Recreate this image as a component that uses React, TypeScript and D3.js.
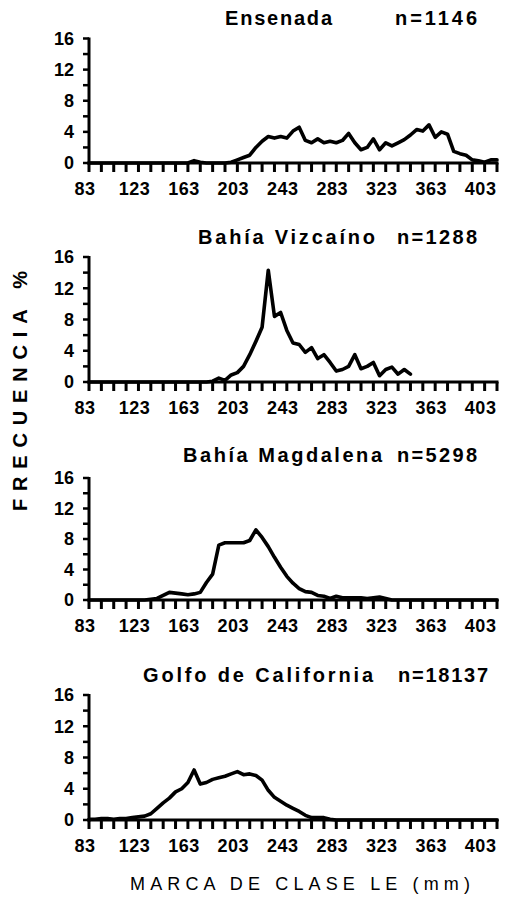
import React from 'react';
import * as d3 from 'd3';

const classMarks = [83, 88, 93, 98, 103, 108, 113, 118, 123, 128, 133, 138, 143, 148, 153, 158, 163, 168, 173, 178, 183, 188, 193, 198, 203, 208, 213, 218, 223, 228, 233, 238, 243, 248, 253, 258, 263, 268, 273, 278, 283, 288, 293, 298, 303, 308, 313, 318, 323, 328, 333, 338, 343, 348, 353, 358, 363, 368, 373, 378, 383, 388, 393, 398, 403, 408, 413];

const ensenada = [0, 0, 0, 0, 0, 0, 0, 0, 0, 0, 0, 0, 0, 0, 0, 0, 0, 0.3, 0.1, 0, 0, 0, 0, 0.1, 0.4, 0.7, 1.0, 2.0, 2.8, 3.4, 3.2, 3.4, 3.2, 4.1, 4.6, 2.9, 2.6, 3.1, 2.6, 2.8, 2.6, 2.9, 3.8, 2.6, 1.7, 2.0, 3.1, 1.7, 2.6, 2.2, 2.6, 3.0, 3.6, 4.3, 4.1, 4.9, 3.3, 4.0, 3.7, 1.5, 1.2, 1.0, 0.4, 0.3, 0.1, 0.4, 0.4];

const vizcaino = [0, 0, 0, 0, 0, 0, 0, 0, 0, 0, 0, 0, 0, 0, 0, 0, 0, 0, 0, 0, 0.1, 0.5, 0.2, 0.9, 1.2, 2.0, 3.5, 5.2, 7.0, 14.3, 8.4, 8.9, 6.6, 5.0, 4.8, 3.8, 4.4, 3.0, 3.5, 2.5, 1.4, 1.6, 2.0, 3.5, 1.7, 2.0, 2.5, 0.8, 1.6, 1.9, 1.0, 1.6, 1.0];

const magdalena = [0, 0, 0, 0, 0, 0, 0, 0, 0, 0, 0.1, 0.2, 0.6, 1.0, 0.9, 0.8, 0.7, 0.8, 1.0, 2.3, 3.4, 7.2, 7.5, 7.5, 7.5, 7.5, 7.8, 9.2, 8.2, 7.0, 5.6, 4.3, 3.1, 2.2, 1.5, 1.1, 1.0, 0.6, 0.5, 0.2, 0.5, 0.3, 0.3, 0.3, 0.3, 0.2, 0.3, 0.4, 0.2, 0, 0, 0, 0, 0, 0, 0, 0, 0, 0, 0, 0, 0, 0, 0, 0, 0, 0];

const golfo = [0.1, 0.1, 0.2, 0.2, 0.1, 0.2, 0.2, 0.3, 0.4, 0.5, 0.8, 1.5, 2.2, 2.8, 3.6, 4.0, 4.8, 6.4, 4.6, 4.8, 5.2, 5.4, 5.6, 5.9, 6.2, 5.8, 5.9, 5.7, 5.1, 3.8, 2.9, 2.4, 1.9, 1.5, 1.1, 0.6, 0.3, 0.3, 0.3, 0.1, 0, 0, 0, 0, 0, 0, 0, 0, 0, 0, 0, 0, 0, 0, 0, 0, 0, 0, 0, 0, 0, 0, 0, 0, 0, 0, 0];

const placeNames = ['Ensenada', 'Bahía Vizcaíno', 'Bahía Magdalena', 'Golfo de California'];
const sampleSizes = ['n=1146', 'n=1288', 'n=5298', 'n=18137'];
const seriesList = [ensenada, vizcaino, magdalena, golfo];

const xTickLabels = [83, 123, 163, 203, 243, 283, 323, 363, 403];
const xMinorTicks = [83, 93, 103, 113, 123, 133, 143, 153, 163, 173, 183, 193, 203, 213, 223, 233, 243, 253, 263, 273, 283, 293, 303, 313, 323, 333, 343, 353, 363, 373, 383, 393, 403, 413];
const yTickLabels = [0, 4, 8, 12, 16];
const yMinorTicks = [0, 2, 4, 6, 8, 10, 12, 14, 16];

const yAxisTitle = 'FRECUENCIA  %';
const xAxisTitle = 'MARCA DE CLASE LE (mm)';

// layout
const W = 505;
const H = 897;
const panelGeom = [
  { base: 163, top: 38.5, nameX: 225, nameLen: 107, nLen: 82, nEnd: 477 },
  { base: 382, top: 257, nameX: 198, nameLen: 177, nLen: 80, nEnd: 477 },
  { base: 600, top: 478, nameX: 183, nameLen: 199, nLen: 80, nEnd: 477 },
  { base: 820, top: 695, nameX: 143, nameLen: 230, nLen: 90, nEnd: 488 },
];
const FONT = '"Liberation Sans", Arial, Helvetica, sans-serif';

const x = d3.scaleLinear().domain([83, 413]).range([89, 497]);

function Panel({ idx }: { idx: number }) {
  const g = panelGeom[idx];
  const y = d3.scaleLinear().domain([0, 16]).range([g.base, g.top]);
  const values = seriesList[idx];
  const pts: [number, number][] = values.map((v, i) => [classMarks[i], v]);
  const line = d3
    .line<[number, number]>()
    .x((d) => x(d[0]))
    .y((d) => y(d[1]));
  return (
    <g>
      <text
        x={g.nameX}
        y={g.base - 138}
        fontFamily={FONT}
        fontWeight="bold"
        fontSize={20}
        textLength={g.nameLen}
        lengthAdjust="spacing"
        fill="#000"
      >
        {placeNames[idx]}
      </text>
      <text
        x={g.nEnd}
        y={g.base - 138}
        fontFamily={FONT}
        fontWeight="bold"
        fontSize={20}
        textAnchor="end"
        textLength={g.nLen}
        lengthAdjust="spacing"
        fill="#000"
      >
        {sampleSizes[idx]}
      </text>
      {/* y axis */}
      <line x1={x(83)} x2={x(83)} y1={y(0) + 1.5} y2={y(16) - 1} stroke="#000" strokeWidth={3} />
      {yMinorTicks.map((t) => (
        <line key={'yt' + t} x1={x(83) - 6} x2={x(83)} y1={y(t)} y2={y(t)} stroke="#000" strokeWidth={2.5} />
      ))}
      {yTickLabels.map((t) => (
        <text
          key={'yl' + t}
          x={74}
          y={y(t)}
          dy="0.36em"
          textAnchor="end"
          fontFamily={FONT}
          fontWeight="bold"
          fontSize={18}
          fill="#000"
        >
          {t}
        </text>
      ))}
      {/* x axis */}
      <line x1={x(83) - 1.5} x2={x(413) + 1.5} y1={y(0)} y2={y(0)} stroke="#000" strokeWidth={3} />
      {xMinorTicks.map((t) => (
        <line key={'xt' + t} x1={x(t)} x2={x(t)} y1={y(0)} y2={y(0) + 9} stroke="#000" strokeWidth={3} />
      ))}
      {xTickLabels.map((t) => (
        <text
          key={'xl' + t}
          x={x(t) - 4}
          y={y(0) + 32}
          textAnchor="middle"
          fontFamily={FONT}
          fontWeight="bold"
          fontSize={18}
          letterSpacing={0.5}
          fill="#000"
        >
          {t}
        </text>
      ))}
      <path
        d={line(pts) || ''}
        fill="none"
        stroke="#000"
        strokeWidth={3.6}
        strokeLinejoin="round"
        strokeLinecap="round"
      />
    </g>
  );
}

export default function App() {
  return (
    <svg
      width={W}
      height={H}
      viewBox={`0 0 ${W} ${H}`}
      style={{ position: 'absolute', left: 0, top: 0, background: '#fff' }}
    >
      <rect x={0} y={0} width={W} height={H} fill="#fff" />
      {placeNames.map((_, i) => (
        <Panel key={i} idx={i} />
      ))}
      <text
        transform="translate(27,391) rotate(-90)"
        textAnchor="middle"
        fontFamily={FONT}
        fontWeight="bold"
        fontSize={20}
        textLength={240}
        lengthAdjust="spacing"
        fill="#000"
      >
        {yAxisTitle}
      </text>
      <text
        x={300}
        y={890}
        textAnchor="middle"
        fontFamily={FONT}
        fontSize={18}
        textLength={340}
        lengthAdjust="spacing"
        fill="#000"
      >
        {xAxisTitle}
      </text>
    </svg>
  );
}
